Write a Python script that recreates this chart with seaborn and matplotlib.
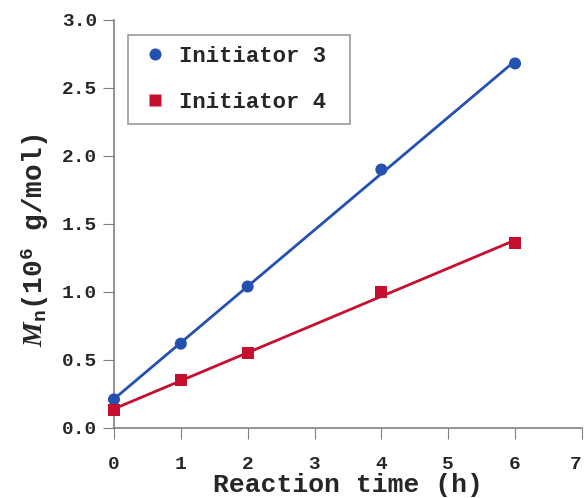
import numpy as np
import pandas as pd
import matplotlib
matplotlib.use("Agg")
import matplotlib.pyplot as plt
import seaborn as sns

# data
time_h = [0, 1, 2, 4, 6]
mn_init3 = [0.21, 0.62, 1.04, 1.90, 2.68]
mn_init4 = [0.13, 0.35, 0.55, 1.00, 1.36]
series_names = ["Initiator 3", "Initiator 4"]
x_ticks = [0, 1, 2, 3, 4, 5, 6, 7]
y_ticks = [0.0, 0.5, 1.0, 1.5, 2.0, 2.5, 3.0]

sns.set_style("ticks")
plt.rcParams["font.family"] = ["Liberation Mono", "DejaVu Sans"]
plt.rcParams["font.weight"] = "bold"
plt.rcParams["mathtext.fontset"] = "custom"
plt.rcParams["mathtext.rm"] = "Liberation Mono:bold"
plt.rcParams["mathtext.it"] = "Liberation Serif:italic:bold"

df = pd.DataFrame({
    "time": time_h * 2,
    "Mn": mn_init3 + mn_init4,
    "series": [series_names[0]] * len(time_h) + [series_names[1]] * len(time_h),
})

colors = {"Initiator 3": "#2450b0", "Initiator 4": "#c4102e"}
markers = {"Initiator 3": "o", "Initiator 4": "s"}

fig = plt.figure(figsize=(5.86, 4.98), dpi=100)
ax = fig.add_axes([0.1945, 0.1406, 0.7985, 0.8194])

# linear fit lines
for name in series_names:
    sub = df[df["series"] == name]
    k, b = np.polyfit(sub["time"], sub["Mn"], 1)
    xs = np.array([sub["time"].min(), sub["time"].max()])
    ax.plot(xs, k * xs + b, color=colors[name], lw=2, zorder=2)

sns.scatterplot(data=df, x="time", y="Mn", hue="series", style="series",
                palette=colors, markers=markers, s=75, edgecolor="none",
                ax=ax, zorder=3, clip_on=False)

ax.set_xlim(0, 7)
ax.set_ylim(0, 3.0)
ax.set_xticks(x_ticks)
ax.set_yticks(y_ticks)
ax.set_yticklabels([f"{v:.1f}" for v in y_ticks])
ax.set_xticklabels([str(v) for v in x_ticks])
ax.tick_params(axis="x", direction="out", length=8, pad=12, labelsize=14, color="#808080")
ax.tick_params(axis="y", direction="out", length=8, pad=4, labelsize=14, color="#808080")
for lab in ax.get_xticklabels():
    if lab.get_text() == "7":
        lab.set_horizontalalignment("right")
sns.despine(ax=ax)
for sp in ["left", "bottom"]:
    ax.spines[sp].set_color("#808080")
    ax.spines[sp].set_linewidth(1.2)

ax.set_xlabel("Reaction time (h)", fontsize=19, fontweight="bold")
ax.xaxis.set_label_coords(0.5, -0.11)
ax.set_ylabel(r"$\mathit{M}_\mathrm{n}$(10$^6$ g/mol)", fontsize=20, fontweight="bold")
ax.yaxis.set_label_coords(-0.135, 0.46)

leg = ax.legend(loc="upper left", bbox_to_anchor=(0.03, 0.963, 0.475, 0), mode="expand",
                frameon=True, fancybox=False,
                fontsize=16, markerscale=1.0, handlelength=1.4, handletextpad=0.4,
                labelspacing=1.1, borderpad=0.5, borderaxespad=0)
leg.get_frame().set_edgecolor("#808080")
leg.get_frame().set_linewidth(1.2)
for t in leg.get_texts():
    t.set_fontweight("bold")

fig.savefig("out.png", dpi=100)
